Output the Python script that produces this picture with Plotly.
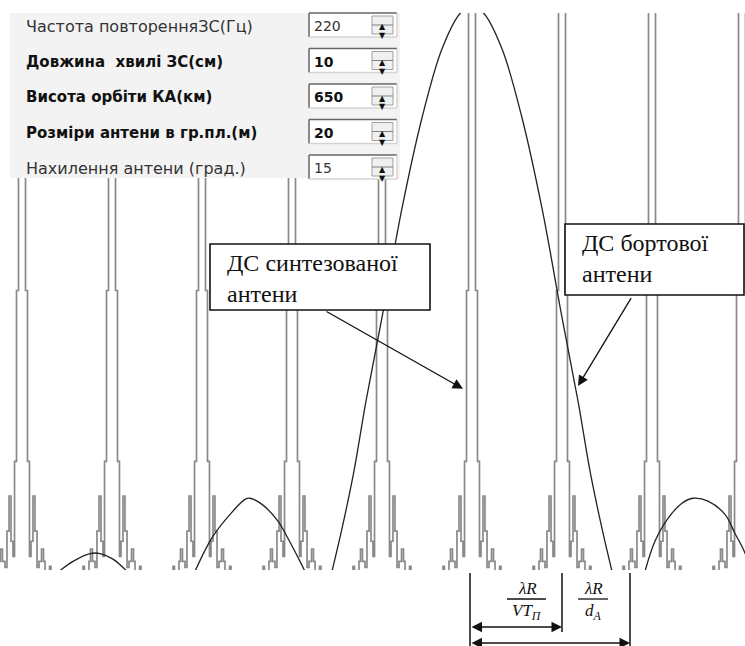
import plotly.graph_objects as go

# ---------------- data ----------------
# x in units of the grating-lobe spacing (lambda*R / V*Tп), 0 = centre lobe
# y = relative amplitude (1 = top of the plot area)
lobe_centers = [-5, -4, -3, -2, -1, 0, 1, 2, 3]
lobe_offsets = [-0.333, -0.322, -0.306, -0.256, -0.239, -0.217, -0.189, -0.167,
                -0.144, -0.122, -0.100, -0.083, -0.061, -0.039,
                0.039, 0.061, 0.083, 0.100, 0.122, 0.144, 0.167, 0.189,
                0.217, 0.239, 0.256, 0.306, 0.322, 0.333]
lobe_levels = [0, 0.009, 0, 0.018, 0.040, 0.018, 0.007, 0.072,
               0.135, 0.054, 0.027, 0.197, 0.503, 1.11,
               0.503, 0.197, 0.027, 0.054, 0.135, 0.072, 0.007, 0.018,
               0.040, 0.018, 0, 0.009, 0, 0]

board_main_x = [-1.556, -1.444, -1.311, -1.178, -1.0, -0.778, -0.556, -0.333, -0.128, 0,
                0.128, 0.333, 0.556, 0.778, 1.0, 1.178, 1.311, 1.444, 1.556]
board_main_y = [0, 0.077, 0.18, 0.305, 0.455, 0.65, 0.812, 0.936, 1.0, 1.012,
                1.0, 0.936, 0.812, 0.65, 0.455, 0.305, 0.18, 0.077, 0]
board_left1_x = [-3.078, -2.878, -2.656, -2.522, -2.467, -2.333, -2.156, -2.044, -1.911, -1.856]
board_left1_y = [0, 0.063, 0.108, 0.129, 0.131, 0.120, 0.090, 0.059, 0.018, 0]
board_right1_x = [1.922, 2.033, 2.178, 2.333, 2.456, 2.622, 2.811, 2.922, 3.011, 3.111]
board_right1_y = [0, 0.054, 0.095, 0.122, 0.131, 0.126, 0.102, 0.068, 0.041, 0]
board_left2_x = [-4.589, -4.433, -4.244, -4.133, -3.989, -3.833]
board_left2_y = [0, 0.018, 0.032, 0.032, 0.022, 0]

param_labels = ["Частота повторенняЗС(Гц)", "Довжина\u00a0 хвилі ЗС(см)", "Висота орбіти КА(км)",
                "Розміри антени в гр.пл.(м)", "Нахилення антени (град.)"]
param_values = ["220", "10", "650", "20", "15"]
param_bold = [False, True, True, True, False]

synth_label = "ДС синтезованої<br>антени"
board_label = "ДС бортової<br>антени"

# ---------------- figure geometry ----------------
W, H = 745, 646
ML, MR, MT, MB = 0, 0, 13, 76
PW = W - ML - MR
PH = H - MT - MB


def px(x):
    return (x - ML) / PW


def py(y):
    return (H - MB - y) / PH


# ---------------- traces ----------------
gx, gy = [], []
for c in lobe_centers:
    gx += [c + o for o in lobe_offsets] + [None]
    gy += list(lobe_levels) + [None]

bx = board_main_x + [None] + board_left1_x + [None] + board_right1_x + [None] + board_left2_x
by = board_main_y + [None] + board_left1_y + [None] + board_right1_y + [None] + board_left2_y

fig = go.Figure()
fig.add_trace(go.Scatter(x=gx, y=gy, mode="lines", line=dict(color="#8a8a8a", width=1.7, shape="hv"),
                         hoverinfo="skip", showlegend=False))
fig.add_trace(go.Scatter(x=bx, y=by, mode="lines", line=dict(color="#222222", width=1.3, shape="spline"),
                         hoverinfo="skip", showlegend=False))

shapes = []
annotations = []

# ---------------- parameter panel ----------------
shapes.append(dict(type="rect", xref="paper", yref="paper", x0=px(10), x1=px(400), y0=py(178), y1=py(13),
                   fillcolor="#f3f3f3", line=dict(width=0), layer="above"))
row_h = 35.5
for i, (lab, val, bold) in enumerate(zip(param_labels, param_values, param_bold)):
    top = 13 + i * row_h
    bot = top + 24
    mid = (top + bot) / 2
    shapes.append(dict(type="rect", xref="paper", yref="paper", x0=px(309), x1=px(397), y0=py(bot), y1=py(top),
                       fillcolor="white", line=dict(width=0), layer="above"))
    for (x0, y0, x1, y1, col) in [(309, top, 397, top, "#666666"), (309, top, 309, bot, "#666666"),
                                  (309, bot, 397, bot, "#d4d4d4"), (397, top, 397, bot, "#d4d4d4")]:
        shapes.append(dict(type="line", xref="paper", yref="paper", x0=px(x0), x1=px(x1), y0=py(y0), y1=py(y1),
                           line=dict(color=col, width=1.5), layer="above"))
    # spinner
    shapes.append(dict(type="rect", xref="paper", yref="paper", x0=px(372), x1=px(393), y0=py(bot - 3),
                       y1=py(top + 3), fillcolor="#f0f0f0", line=dict(color="#a0a0a0", width=1), layer="above"))
    shapes.append(dict(type="line", xref="paper", yref="paper", x0=px(372), x1=px(393), y0=py(mid), y1=py(mid),
                       line=dict(color="#808080", width=1), layer="above"))
    annotations.append(dict(xref="paper", yref="paper", x=px(382.5), y=py(mid - 4.5), text="▲", showarrow=False,
                            font=dict(family="DejaVu Sans", size=8, color="#111")))
    annotations.append(dict(xref="paper", yref="paper", x=px(382.5), y=py(mid + 4.5), text="▼", showarrow=False,
                            font=dict(family="DejaVu Sans", size=8, color="#111")))
    txt = "<b>%s</b>" % lab if bold else lab
    vtxt = "<b>%s</b>" % val if bold else val
    col = "#111111" if bold else "#333333"
    annotations.append(dict(xref="paper", yref="paper", x=px(24), y=py(mid + 1), xanchor="left", yanchor="middle",
                            text=txt, showarrow=False,
                            font=dict(family="DejaVu Sans", size=15 if bold else 16, color=col)))
    annotations.append(dict(xref="paper", yref="paper", x=px(312), y=py(mid + 1), xanchor="left", yanchor="middle",
                            text=vtxt, showarrow=False, font=dict(family="DejaVu Sans", size=14, color=col)))

# ---------------- callout boxes ----------------
for (x0, y0, x1, y1) in [(210, 244, 430, 310), (565, 224, 744, 295)]:
    shapes.append(dict(type="rect", xref="paper", yref="paper", x0=px(x0), x1=px(x1), y0=py(y1), y1=py(y0),
                       fillcolor="white", line=dict(color="#111111", width=1.6), layer="above"))
for text, (x, y) in [(synth_label, (225, 278)), (board_label, (580, 258))]:
    annotations.append(dict(xref="paper", yref="paper", x=px(x), y=py(y), xanchor="left", yanchor="middle",
                            align="left", text=text, showarrow=False,
                            font=dict(family="Liberation Serif", size=24, color="#111111")))

# callout arrows (tips on the patterns)
annotations.append(dict(xref="x", yref="y", axref="x", ayref="y", x=-0.10, y=0.327, ax=-1.633, ay=0.467,
                        text="", showarrow=True, arrowhead=2, arrowsize=1.6, arrowwidth=1.3,
                        arrowcolor="#111111", standoff=0))
annotations.append(dict(xref="x", yref="y", axref="x", ayref="y", x=1.178, y=0.332, ax=1.778, ay=0.492,
                        text="", showarrow=True, arrowhead=2, arrowsize=1.6, arrowwidth=1.3,
                        arrowcolor="#111111", standoff=0))

# ---------------- dimension bracket below the plot ----------------
for (x, y0, y1) in [(470, 573, 646), (562, 573, 632), (630, 573, 646)]:
    shapes.append(dict(type="line", xref="paper", yref="paper", x0=px(x), x1=px(x), y0=py(y0), y1=py(y1),
                       line=dict(color="#111111", width=1.5), layer="above"))
for (xa, xb, y) in [(470, 562, 627), (470, 630, 643)]:
    annotations.append(dict(xref="paper", yref="paper", x=px(xb), y=py(y), axref="pixel", ayref="pixel",
                            ax=-(xb - xa), ay=0, text="", showarrow=True, arrowhead=2, startarrowhead=2,
                            arrowside="end+start", arrowsize=1.4, startarrowsize=1.4, arrowwidth=1.5,
                            arrowcolor="#111111", standoff=0, startstandoff=0))
# fractions
for (xc, x0, x1, num, den) in [(527, 507, 546, "<i>λR</i>", "<i>VT<sub>П</sub></i>"),
                               (593, 578, 608, "<i>λR</i>", "<i>d<sub>А</sub></i>")]:
    shapes.append(dict(type="line", xref="paper", yref="paper", x0=px(x0), x1=px(x1), y0=py(599), y1=py(599),
                       line=dict(color="#111111", width=1.3), layer="above"))
    annotations.append(dict(xref="paper", yref="paper", x=px(xc), y=py(588), text=num, showarrow=False,
                            xanchor="center", yanchor="middle",
                            font=dict(family="Liberation Serif", size=17, color="#111111")))
    annotations.append(dict(xref="paper", yref="paper", x=px(xc), y=py(612), text=den, showarrow=False,
                            xanchor="center", yanchor="middle",
                            font=dict(family="Liberation Serif", size=17, color="#111111")))

fig.update_layout(
    width=W, height=H,
    margin=dict(l=ML, r=MR, t=MT, b=MB),
    paper_bgcolor="white", plot_bgcolor="white",
    xaxis=dict(range=[-472 / 90, 273 / 90], visible=False, fixedrange=True),
    yaxis=dict(range=[0.0025, 1.0], visible=False, fixedrange=True),
    shapes=shapes, annotations=annotations,
    showlegend=False,
)

fig.write_html("out.html", config={"displayModeBar": False},
               post_script="document.body.style.margin='0';document.body.style.overflow='hidden';")
